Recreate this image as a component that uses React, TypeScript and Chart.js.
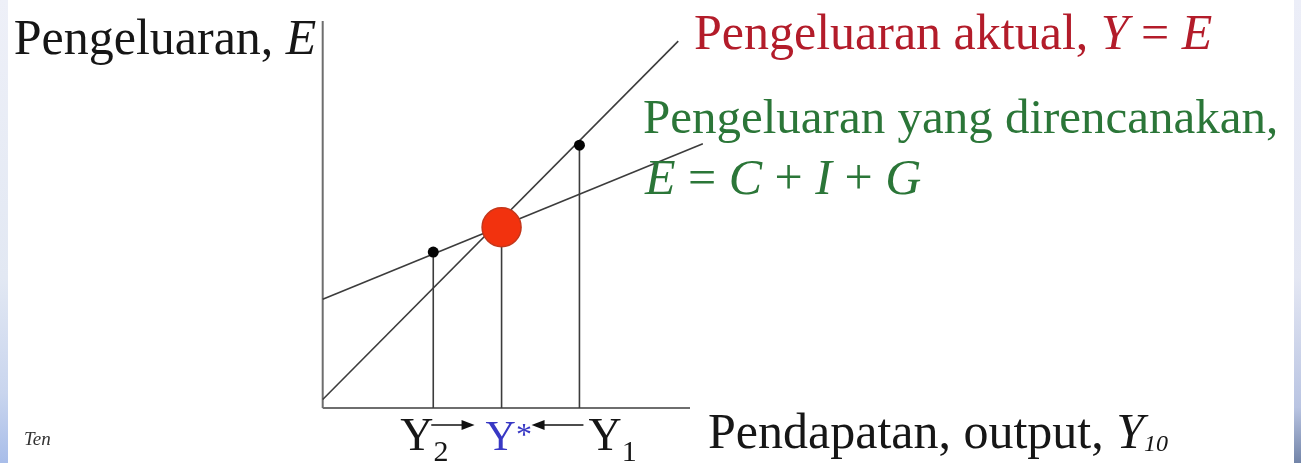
import React, { useEffect, useRef } from "react";
import { Chart, registerables } from "chart.js";

Chart.register(...registerables);

// ---- data (in chart units) ----
const axisEndX = 10;
const axisEndY = 10;
const actualLineX = [0, 9.68];
const actualLineY = [0.22, 9.48];
const plannedLineX = [0, 10.35];
const plannedLineY = [2.81, 6.83];
const levelNames = ["Y2", "Y*", "Y1"];
const levelX = [3.01, 4.87, 6.99];
const levelE = [4.03, 4.67, 6.79];

const yAxisLabel = "Pengeluaran, ";
const yAxisSymbol = "E";
const xAxisLabel = "Pendapatan, output, ";
const actualLabel = "Pengeluaran aktual, ";
const plannedLabel = "Pengeluaran yang direncanakan,";

const SERIF = '"Liberation Serif", "Times New Roman", Times, serif';
const LINE = "#3c3c3c";
const AXIS = "#6e6e6e";
const RED = "#b31c2a";
const GREEN = "#2b7638";
const BLUE = "#3838c4";
const TEXT = "#161616";

type Part = { t: string; size: number; italic?: boolean; color: string; dy?: number };

function drawRun(ctx: CanvasRenderingContext2D, parts: Part[], x: number, y: number) {
  let cx = x;
  for (const p of parts) {
    ctx.font = `${p.italic ? "italic " : ""}${p.size}px ${SERIF}`;
    ctx.fillStyle = p.color;
    ctx.fillText(p.t, cx, y + (p.dy || 0));
    cx += ctx.measureText(p.t).width;
  }
  return cx;
}

function arrow(ctx: CanvasRenderingContext2D, x1: number, x2: number, y: number) {
  ctx.save();
  ctx.strokeStyle = "#111";
  ctx.fillStyle = "#111";
  ctx.lineWidth = 1.5;
  const dir = Math.sign(x2 - x1);
  ctx.beginPath();
  ctx.moveTo(x1, y);
  ctx.lineTo(x2 - dir * 10, y);
  ctx.stroke();
  ctx.beginPath();
  ctx.moveTo(x2, y);
  ctx.lineTo(x2 - dir * 13, y - 5);
  ctx.lineTo(x2 - dir * 13, y + 5);
  ctx.closePath();
  ctx.fill();
  ctx.restore();
}

const labelPlugin = {
  id: "econLabels",
  afterDatasetsDraw(chart: any) {
    const ctx: CanvasRenderingContext2D = chart.ctx;
    const xs = chart.scales.x;
    const ys = chart.scales.y;
    const left = xs.getPixelForValue(0);
    const bottom = ys.getPixelForValue(0);
    ctx.save();
    ctx.textBaseline = "alphabetic";
    ctx.textAlign = "left";

    // y-axis title
    drawRun(
      ctx,
      [
        { t: yAxisLabel, size: 50, color: TEXT },
        { t: yAxisSymbol, size: 50, italic: true, color: TEXT },
      ],
      left - 309,
      54
    );

    // actual expenditure label
    drawRun(
      ctx,
      [
        { t: actualLabel, size: 50, color: RED },
        { t: "Y", size: 50, italic: true, color: RED },
        { t: " = ", size: 50, color: RED },
        { t: "E", size: 50, italic: true, color: RED },
      ],
      694,
      49
    );

    // planned expenditure label
    drawRun(ctx, [{ t: plannedLabel, size: 49, color: GREEN }], 643, 133);
    drawRun(
      ctx,
      [
        { t: "E", size: 50, italic: true, color: GREEN },
        { t: " = ", size: 50, color: GREEN },
        { t: "C", size: 50, italic: true, color: GREEN },
        { t: " + ", size: 50, color: GREEN },
        { t: "I", size: 50, italic: true, color: GREEN },
        { t: " + ", size: 50, color: GREEN },
        { t: "G", size: 50, italic: true, color: GREEN },
      ],
      645,
      194
    );

    // x-axis title
    drawRun(
      ctx,
      [
        { t: xAxisLabel, size: 50, color: TEXT },
        { t: "Y", size: 50, italic: true, color: TEXT },
        { t: "10", size: 24, italic: true, color: TEXT, dy: 3 },
      ],
      708,
      bottom + 40
    );

    // level labels below axis
    const px = levelX.map((v) => xs.getPixelForValue(v));
    const base = bottom + 42;
    drawRun(
      ctx,
      [
        { t: "Y", size: 46, color: TEXT },
        { t: levelNames[0].slice(1), size: 30, color: TEXT, dy: 11 },
      ],
      px[0] - 33,
      base
    );
    arrow(ctx, px[0] - 2, px[1] - 27, bottom + 17);
    drawRun(
      ctx,
      [
        { t: "Y", size: 42, color: BLUE },
        { t: levelNames[1].slice(1), size: 32, color: BLUE, dy: -5 },
      ],
      px[1] - 16,
      base
    );
    arrow(ctx, px[2] + 4, px[1] + 30, bottom + 17);
    drawRun(
      ctx,
      [
        { t: "Y", size: 46, color: TEXT },
        { t: levelNames[2].slice(1), size: 30, color: TEXT, dy: 11 },
      ],
      px[2] + 9,
      base
    );

    // small signature
    ctx.font = `italic 19px ${SERIF}`;
    ctx.fillStyle = "#333";
    ctx.fillText("Ten", 24, bottom + 37);
    ctx.restore();
  },
};

export default function App() {
  const ref = useRef<HTMLCanvasElement | null>(null);

  useEffect(() => {
    document.body.style.margin = "0";
    if (!ref.current) return;
    const seg = (xa: number[], ya: number[]) => xa.map((x, i) => ({ x, y: ya[i] }));
    const lineDs = (data: any[], color: string, width: number) => ({
      type: "line" as const,
      data,
      borderColor: color,
      borderWidth: width,
      pointRadius: 0,
      fill: false,
      clip: false as any,
      tension: 0,
    });

    const chart = new Chart(ref.current, {
      type: "scatter",
      data: {
        datasets: [
          {
            type: "scatter",
            data: [{ x: levelX[1], y: levelE[1] }],
            pointRadius: 19.5,
            backgroundColor: "#f2320e",
            borderColor: "#c4361a",
            borderWidth: 1.5,
            clip: false as any,
          },
          {
            type: "scatter",
            data: [
              { x: levelX[0], y: levelE[0] },
              { x: levelX[2], y: levelE[2] },
            ],
            pointRadius: 5.5,
            backgroundColor: "#050505",
            borderColor: "#050505",
            borderWidth: 0,
            clip: false as any,
          },
          lineDs(seg(actualLineX, actualLineY), LINE, 1.6),
          lineDs(seg(plannedLineX, plannedLineY), LINE, 1.6),
          ...levelX.map((x, i) => lineDs([{ x, y: 0 }, { x, y: levelE[i] }], LINE, 1.6)),
          lineDs([{ x: 0, y: 0 }, { x: axisEndX, y: 0 }], AXIS, 2),
          lineDs([{ x: 0, y: 0 }, { x: 0, y: axisEndY }], AXIS, 2),
        ] as any,
      },
      options: {
        animation: false,
        responsive: false,
        maintainAspectRatio: false,
        layout: { padding: { left: 322.7, right: 611, top: 18, bottom: 55 } },
        plugins: { legend: { display: false }, tooltip: { enabled: false } },
        events: [],
        scales: {
          x: { type: "linear", min: 0, max: axisEndX, display: false },
          y: { type: "linear", min: 0, max: axisEndY, display: false },
        },
      },
      plugins: [labelPlugin],
    });
    return () => chart.destroy();
  }, []);

  return (
    <div style={{ position: "relative", width: 1301, height: 463, background: "#fff", overflow: "hidden" }}>
      <div
        style={{
          position: "absolute",
          left: 0,
          top: 0,
          width: 8,
          height: 463,
          background: "linear-gradient(#eef0f8, #e2e8f3 60%, #c9d5ee 85%, #a8bde9)",
        }}
      />
      <div
        style={{
          position: "absolute",
          right: 0,
          top: 0,
          width: 7,
          height: 463,
          background: "linear-gradient(#eceef8, #e4e7f3 60%, #b9c4e2 88%, #7284a8)",
        }}
      />
      <canvas ref={ref} width={1301} height={463} style={{ position: "absolute", left: 0, top: 0, width: 1301, height: 463 }} />
    </div>
  );
}
